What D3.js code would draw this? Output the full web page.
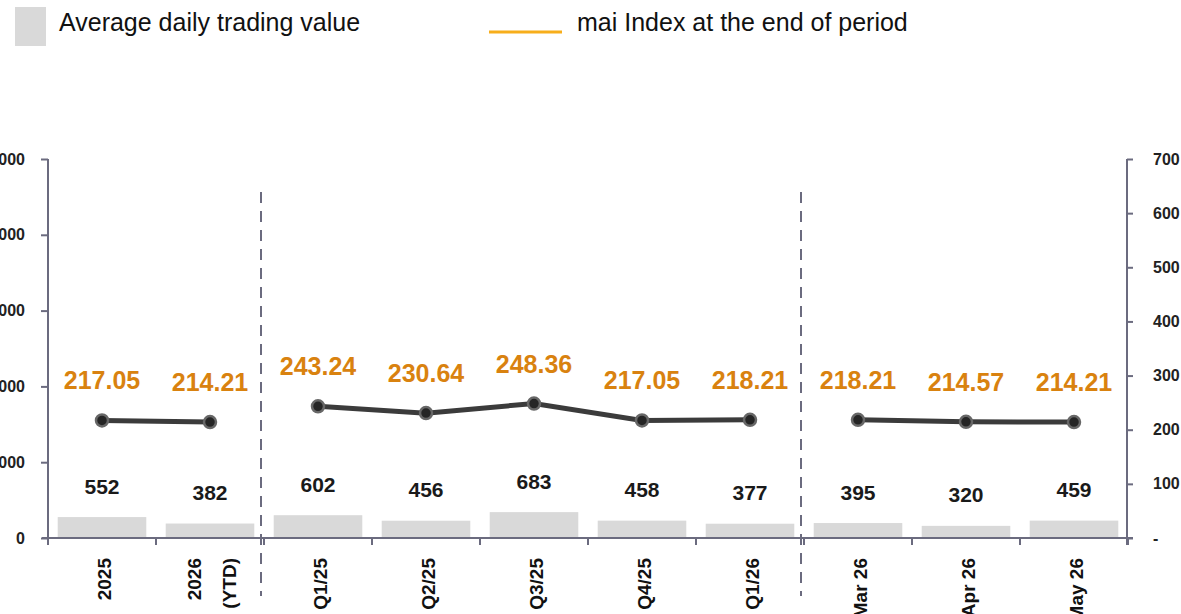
<!DOCTYPE html>
<html>
<head>
<meta charset="utf-8">
<script src="https://cdn.jsdelivr.net/npm/d3@7"></script>
<style>
  html, body { margin: 0; padding: 0; background: #fff; }
  svg { display: block; font-family: "Liberation Sans", Arial, Helvetica, sans-serif; }
</style>
</head>
<body>
<div id="chart"></div>
<script>
// Chart data
const categories = ["2025", "2026 (YTD)", "Q1/25", "Q2/25", "Q3/25", "Q4/25", "Q1/26", "Mar 26", "Apr 26", "May 26"];
const tradingValue = [552, 382, 602, 456, 683, 458, 377, 395, 320, 459];
const maiIndex = [217.05, 214.21, 243.24, 230.64, 248.36, 217.05, 218.21, 218.21, 214.57, 214.21];
// which block each period belongs to (yearly / quarterly / monthly)
const periodGroup = [0, 0, 1, 1, 1, 1, 1, 2, 2, 2];
const leftTicks = [0, 2000, 4000, 6000, 8000, 10000];
const rightTicks = [0, 100, 200, 300, 400, 500, 600, 700];

const data = categories.map((c, i) => ({
  cat: c, value: tradingValue[i], index: maiIndex[i], group: periodGroup[i]
}));

const width = 1181, height = 614;
const axisColor = "#6b6b7f";
const orange = "#d9820f";

const svg = d3.select("#chart")
  .append("svg")
    .attr("width", width)
    .attr("height", height);

// Scales
const x = d3.scaleBand()
  .domain(categories)
  .range([48, 1128])
  .paddingInner(0.18)
  .paddingOuter(0.09);
const yLeft = d3.scaleLinear().domain([0, 10000]).range([538, 159]);
const yRight = d3.scaleLinear().domain([0, 700]).range([538, 159]);

const gap = (x.step() - x.bandwidth()) / 2;
const boundary = c => x(c) - gap;

// Legend
svg.append("rect")
  .attr("x", 15).attr("y", 7)
  .attr("width", 31).attr("height", 39)
  .attr("fill", "#d9d9d9");
svg.append("text")
  .attr("x", 59).attr("y", 31)
  .style("font-size", "25px")
  .attr("fill", "#111")
  .text("Average daily trading value");
svg.append("line")
  .attr("x1", 489).attr("x2", 562)
  .attr("y1", 32).attr("y2", 32)
  .attr("stroke", "#f7ae1b")
  .attr("stroke-width", 3);
svg.append("text")
  .attr("x", 577).attr("y", 31)
  .style("font-size", "25px")
  .attr("fill", "#111")
  .text("mai Index at the end of period");

// Bars
svg.append("g")
  .selectAll("rect")
  .data(data)
  .join("rect")
    .attr("x", d => x(d.cat))
    .attr("y", d => yLeft(d.value))
    .attr("width", x.bandwidth())
    .attr("height", d => yLeft(0) - yLeft(d.value))
    .attr("fill", "#d9d9d9");

// Left axis
const leftAxis = svg.append("g")
  .attr("transform", "translate(48,0)")
  .call(d3.axisLeft(yLeft)
    .tickValues(leftTicks)
    .tickSize(7)
    .tickPadding(16)
    .tickFormat(d3.format(",")));
leftAxis.select(".domain").remove();
leftAxis.selectAll(".tick line").attr("stroke", axisColor).attr("stroke-width", 2);
leftAxis.selectAll(".tick text")
  .attr("fill", "#222")
  .style("font-size", "16px")
  .style("font-weight", "bold")
  .style("font-family", "'Liberation Sans', Arial, sans-serif");
svg.append("line")
  .attr("x1", 48).attr("x2", 48)
  .attr("y1", yLeft.range()[1]).attr("y2", yLeft(0) + 7)
  .attr("stroke", axisColor).attr("stroke-width", 2);

// Right axis
const rightAxis = svg.append("g")
  .attr("transform", "translate(1127,0)")
  .call(d3.axisRight(yRight)
    .tickValues(rightTicks)
    .tickSize(6)
    .tickPadding(20)
    .tickFormat(d => d === 0 ? "-" : d));
rightAxis.select(".domain").remove();
rightAxis.selectAll(".tick line").attr("stroke", axisColor).attr("stroke-width", 2);
rightAxis.selectAll(".tick text")
  .attr("fill", "#222")
  .style("font-size", "16px")
  .style("font-weight", "bold")
  .style("font-family", "'Liberation Sans', Arial, sans-serif");
svg.append("line")
  .attr("x1", 1127).attr("x2", 1127)
  .attr("y1", yRight.range()[1]).attr("y2", yRight(0) + 7)
  .attr("stroke", axisColor).attr("stroke-width", 2);

// Bottom axis with ticks between categories
svg.append("line")
  .attr("x1", 42).attr("x2", 1133)
  .attr("y1", yLeft(0)).attr("y2", yLeft(0))
  .attr("stroke", axisColor).attr("stroke-width", 2);
const edges = categories.map(boundary).concat([x.range()[1]]);
svg.append("g")
  .selectAll("line")
  .data(edges)
  .join("line")
    .attr("x1", d => d).attr("x2", d => d)
    .attr("y1", yLeft(0)).attr("y2", yLeft(0) + 7)
    .attr("stroke", axisColor).attr("stroke-width", 2);

// Dashed separators between period blocks
const splits = data.filter((d, i) => i > 0 && d.group !== data[i - 1].group);
svg.append("g")
  .selectAll("line")
  .data(splits)
  .join("line")
    .attr("x1", d => boundary(d.cat) - 3)
    .attr("x2", d => boundary(d.cat) - 3)
    .attr("y1", 192).attr("y2", 596)
    .attr("stroke", axisColor)
    .attr("stroke-width", 2)
    .attr("stroke-dasharray", "11,8");

// Category labels (rotated)
const cx = d => x(d) + x.bandwidth() / 2;
const catLabels = svg.append("g")
  .selectAll("text")
  .data(categories)
  .join("text")
    .attr("transform", d => `translate(${cx(d)},558) rotate(-90)`)
    .attr("text-anchor", "end")
    .attr("fill", "#111")
    .style("font-size", "19px")
    .style("font-weight", "bold");
catLabels.each(function(d) {
  const parts = d.includes("(") ? d.split(" ") : [d];
  const t = d3.select(this);
  parts.forEach((p, i) => {
    t.append("tspan")
      .attr("x", 0)
      .attr("y", (i - (parts.length - 1) / 2) * 35 + 2)
      .attr("dy", "0.35em")
      .text(p);
  });
});

// Bar value labels
svg.append("g")
  .selectAll("text")
  .data(data)
  .join("text")
    .attr("x", d => cx(d.cat))
    .attr("y", d => yLeft(d.value) - 31)
    .attr("dy", "0.36em")
    .attr("text-anchor", "middle")
    .attr("fill", "#1a1a1a")
    .style("font-size", "21px")
    .style("font-weight", "bold")
    .text(d => d.value);

// Index line, broken between blocks
const line = d3.line()
  .x(d => cx(d.cat))
  .y(d => yRight(d.index));
const blocks = d3.groups(data, d => d.group);
svg.append("g")
  .selectAll("path")
  .data(blocks)
  .join("path")
    .attr("d", d => line(d[1]))
    .attr("fill", "none")
    .attr("stroke", "#3b3b3b")
    .attr("stroke-width", 5);

svg.append("g")
  .selectAll("circle")
  .data(data)
  .join("circle")
    .attr("cx", d => cx(d.cat))
    .attr("cy", d => yRight(d.index))
    .attr("r", 6)
    .attr("fill", "#252525")
    .attr("stroke", "#676767")
    .attr("stroke-width", 2.5);

// Index value labels
svg.append("g")
  .selectAll("text")
  .data(data)
  .join("text")
    .attr("x", d => cx(d.cat))
    .attr("y", d => yRight(d.index) - 40)
    .attr("dy", "0.36em")
    .attr("text-anchor", "middle")
    .attr("fill", orange)
    .style("font-size", "25px")
    .style("font-weight", "bold")
    .text(d => d3.format(".2f")(d.index));
</script>
</body>
</html>
